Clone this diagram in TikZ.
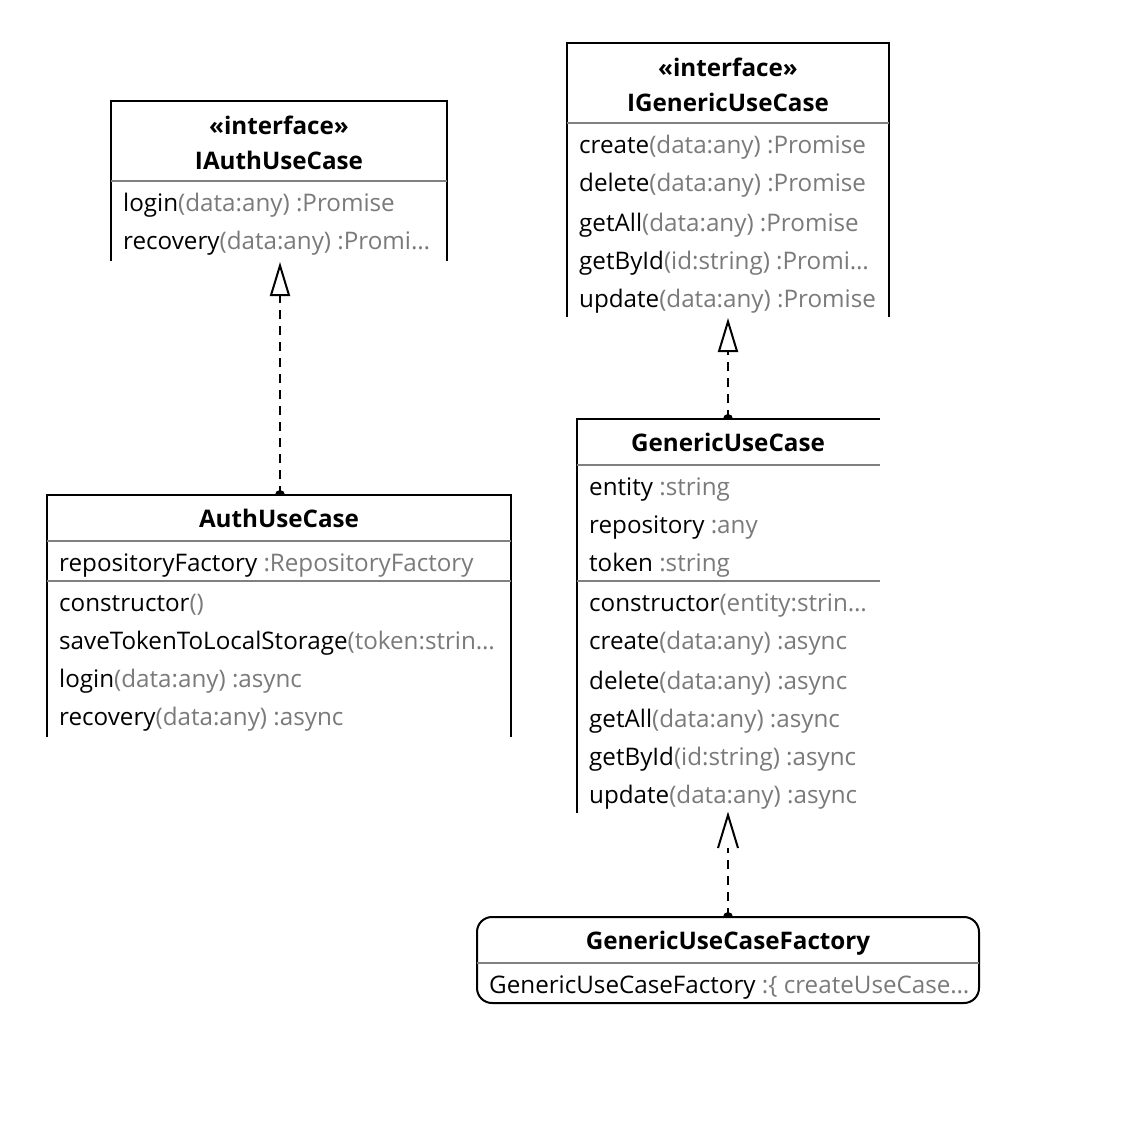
\documentclass[tikz,border=0pt]{standalone}
\usepackage{fontspec}
\setmainfont{Open Sans}
\usetikzlibrary{arrows.meta}
\definecolor{typegray}{HTML}{7A7A7A}
\definecolor{rulegray}{HTML}{808080}
\newcommand\tp[1]{\textcolor{typegray}{#1}}

\begin{document}
\begin{tikzpicture}[x=1pt,y=-1pt,
  frame/.style={line width=2pt, black},
  rule/.style={line width=2pt, rulegray},
  row/.style={anchor=base west, inner sep=0pt, font=\fontsize{24.2}{28}\selectfont},
  title/.style={anchor=base, inner sep=0pt, font=\fontsize{24.2}{28}\selectfont\bfseries},
  dashline/.style={line width=2pt, dash pattern=on 9pt off 7pt},
  realize/.style={dashline, -{Triangle[open, length=34pt, width=20pt, line width=2pt]}},
  depend/.style={dashline, shorten >=33pt},
  barb/.style={line width=2pt, line join=miter},
  startdot/.style={fill=black}
]
\useasboundingbox[fill=white] (0,0) rectangle (1120,1144);

% ---------- IAuthUseCase ----------
\draw[frame] (111,261) -- (111,101) -- (447,101) -- (447,261);
\draw[rule] (111,181) -- (447,181);
\node[title] (iauth-st) at (279,134) {«interface»};
\node[title] (iauth-name) at (279,169) {IAuthUseCase};
\node[row] (iauth-m1) at (123,211) {login\tp{(data:any) :Promise}};
\node[row] (iauth-m2) at (123,249) {recovery\tp{(data:any) :Promi…}};
\coordinate (iauth-bot) at (280,262);

% ---------- IGenericUseCase ----------
\draw[frame] (567,317) -- (567,43) -- (889,43) -- (889,317);
\draw[rule] (567,123) -- (889,123);
\node[title] (igen-st) at (728,76) {«interface»};
\node[title] (igen-name) at (728,111) {IGenericUseCase};
\node[row] (igen-m1) at (579,153) {create\tp{(data:any) :Promise}};
\node[row] (igen-m2) at (579,191) {delete\tp{(data:any) :Promise}};
\node[row] (igen-m3) at (579,231) {getAll\tp{(data:any) :Promise}};
\node[row] (igen-m4) at (579,269) {getById\tp{(id:string) :Promi…}};
\node[row] (igen-m5) at (579,307) {update\tp{(data:any) :Promise}};
\coordinate (igen-bot) at (728,318);

% ---------- AuthUseCase ----------
\draw[frame] (47,737) -- (47,495) -- (511,495) -- (511,737);
\draw[rule] (47,541) -- (511,541);
\draw[rule] (47,581) -- (511,581);
\node[title] (auth-name) at (279,527) {AuthUseCase};
\node[row] (auth-a1) at (59,571) {repositoryFactory \tp{:RepositoryFactory}};
\node[row] (auth-m1) at (59,611) {constructor\tp{()}};
\node[row] (auth-m2) at (59,649) {saveTokenToLocalStorage\tp{(token:strin…}};
\node[row] (auth-m3) at (59,687) {login\tp{(data:any) :async}};
\node[row] (auth-m4) at (59,725) {recovery\tp{(data:any) :async}};
\coordinate (auth-top) at (280,495);

% ---------- GenericUseCase ----------
\draw[frame] (577,813) -- (577,419) -- (880,419);
\draw[rule] (577,465) -- (880,465);
\draw[rule] (577,581) -- (880,581);
\node[title] (gen-name) at (728,451) {GenericUseCase};
\node[row] (gen-a1) at (589,495) {entity \tp{:string}};
\node[row] (gen-a2) at (589,533) {repository \tp{:any}};
\node[row] (gen-a3) at (589,571) {token \tp{:string}};
\node[row] (gen-m1) at (589,611) {constructor\tp{(entity:strin…}};
\node[row] (gen-m2) at (589,649) {create\tp{(data:any) :async}};
\node[row] (gen-m3) at (589,689) {delete\tp{(data:any) :async}};
\node[row] (gen-m4) at (589,727) {getAll\tp{(data:any) :async}};
\node[row] (gen-m5) at (589,765) {getById\tp{(id:string) :async}};
\node[row] (gen-m6) at (589,803) {update\tp{(data:any) :async}};
\coordinate (gen-top) at (728,419);
\coordinate (gen-bot) at (728,815);

% ---------- GenericUseCaseFactory ----------
\draw[frame, rounded corners=15pt] (477,917) rectangle (979,1003);
\draw[rule] (477,963) -- (979,963);
\node[title] (fac-name) at (728,949) {GenericUseCaseFactory};
\node[row] (fac-a1) at (489,993) {GenericUseCaseFactory \tp{:\{ createUseCase…}};
\coordinate (fac-top) at (728,917);

% ---------- relations ----------
\draw[realize] (auth-top) -- (iauth-bot);
\fill[startdot] (auth-top) ++(-5,0) arc (180:360:5) -- cycle;

\draw[realize] (gen-top) -- (igen-bot);
\fill[startdot] (gen-top) ++(-5,0) arc (180:360:5) -- cycle;

\draw[depend] (fac-top) -- (gen-bot);
\draw[barb] (gen-bot) ++(-10,33) -- (gen-bot) -- ++(10,33);
\fill[startdot] (fac-top) ++(-5,0) arc (180:360:5) -- cycle;
\end{tikzpicture}
\end{document}
